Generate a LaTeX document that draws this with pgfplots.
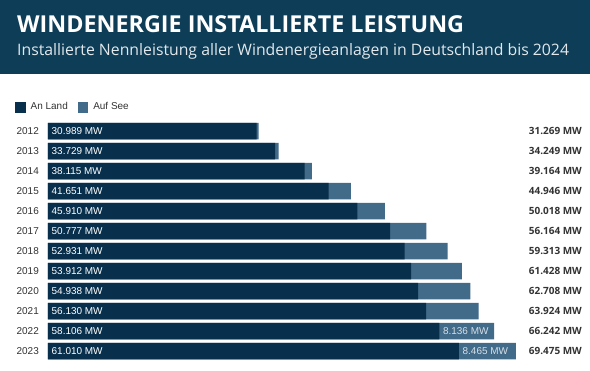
\documentclass[border=0pt]{standalone}
\usepackage{pgfplots}
\pgfplotsset{compat=1.18}
\usepackage{pgfplotstable}
\usepackage{fontspec}
\setmainfont{Liberation Sans}
\newfontfamily\headfont{Open Sans}
\definecolor{header}{HTML}{0E3D58}
\definecolor{landc}{HTML}{08304D}
\definecolor{seac}{HTML}{426A89}
\definecolor{txt}{HTML}{333333}
\definecolor{sealbl}{HTML}{D5E0E8}

\pgfplotstableread{
year land total landlbl totlbl
2012 30989 31269 30.989 31.269
2013 33729 34249 33.729 34.249
2014 38115 39164 38.115 39.164
2015 41651 44946 41.651 44.946
2016 45910 50018 45.910 50.018
2017 50777 56164 50.777 56.164
2018 52931 59313 52.931 59.313
2019 53912 61428 53.912 61.428
2020 54938 62708 54.938 62.708
2021 56130 63924 56.130 63.924
2022 58106 66242 58.106 66.242
2023 61010 69475 61.010 69.475
}\data

\begin{document}
\begin{tikzpicture}
\path[fill=white] (0bp,0bp) rectangle (590bp,371bp);
\fill[header] (0bp,297bp) rectangle (590bp,371bp);
\node[anchor=base west, inner sep=0pt, text=white, font=\headfont\bfseries\fontsize{23.4}{26}\selectfont] at (17bp,338bp) {WINDENERGIE INSTALLIERTE LEISTUNG};
\node[anchor=base west, inner sep=0pt, text=white!88!header, font=\headfont\fontsize{15.85}{18}\selectfont] at (17bp,315bp) {Installierte Nennleistung aller Windenergieanlagen in Deutschland bis 2024};
\begin{axis}[
  at={(48bp,10bp)}, anchor=south west,
  scale only axis, width=534bp, height=240bp,
  xmin=0, xmax=79275, ymin=2011.5, ymax=2023.5,
  y dir=reverse,
  hide x axis,
  axis y line*=left,
  y axis line style={draw=none},
  major tick length=0pt,
  ytick={2012,2013,2014,2015,2016,2017,2018,2019,2020,2021,2022,2023},
  yticklabels={2012,2013,2014,2015,2016,2017,2018,2019,2020,2021,2022,2023},
  yticklabel style={font=\fontsize{10}{12}\selectfont, text=txt, inner sep=0pt, xshift=-9bp},
  clip=false,
  legend image code/.code={\path[#1] (0bp,-5.5bp) rectangle (10.5bp,5.5bp);},
  legend style={at={(-0.0618,1.058)}, anchor=west, draw=none, fill=none,
    font=\fontsize{10}{12}\selectfont, text=txt, inner sep=0pt,
    /tikz/every odd column/.append style={column sep=3bp},
    /tikz/every even column/.append style={column sep=8bp},
    legend cell align=left},
  legend columns=-1,
]
\addlegendimage{fill=landc, draw=none}
\addlegendimage{fill=seac, draw=none}
\addplot[xbar, bar width=16.5bp, fill=seac, draw=none, forget plot] table[x=total, y=year] {\data};
\addplot[xbar, bar width=16.5bp, fill=landc, draw=none, forget plot] table[x=land, y=year] {\data};
% labels inside land bars
\addplot[draw=none, mark=none, forget plot, point meta=explicit symbolic,
  nodes near coords={\pgfplotspointmeta{} MW},
  every node near coord/.append style={anchor=west, xshift=3.5bp, inner sep=0pt, text=white, font=\fontsize{10}{12}\selectfont}]
  table[x expr=0, y=year, meta=landlbl] {\data};
% totals on right
\addplot[draw=none, mark=none, forget plot, point meta=explicit symbolic,
  nodes near coords={\pgfplotspointmeta{} MW},
  every node near coord/.append style={anchor=east, inner sep=0pt, text=txt, font=\headfont\bfseries\fontsize{10}{12}\selectfont}]
  table[x expr=79275, y=year, meta=totlbl] {\data};
% offshore labels
\addplot[draw=none, mark=none, forget plot, point meta=explicit symbolic,
  nodes near coords={\pgfplotspointmeta{} MW},
  every node near coord/.append style={anchor=west, xshift=3.5bp, inner sep=0pt, text=sealbl, font=\fontsize{10}{12}\selectfont}]
  coordinates {(58106,2022) [8.136] (61010,2023) [8.465]};
\legend{An Land, Auf See}
\end{axis}
\end{tikzpicture}
\end{document}
